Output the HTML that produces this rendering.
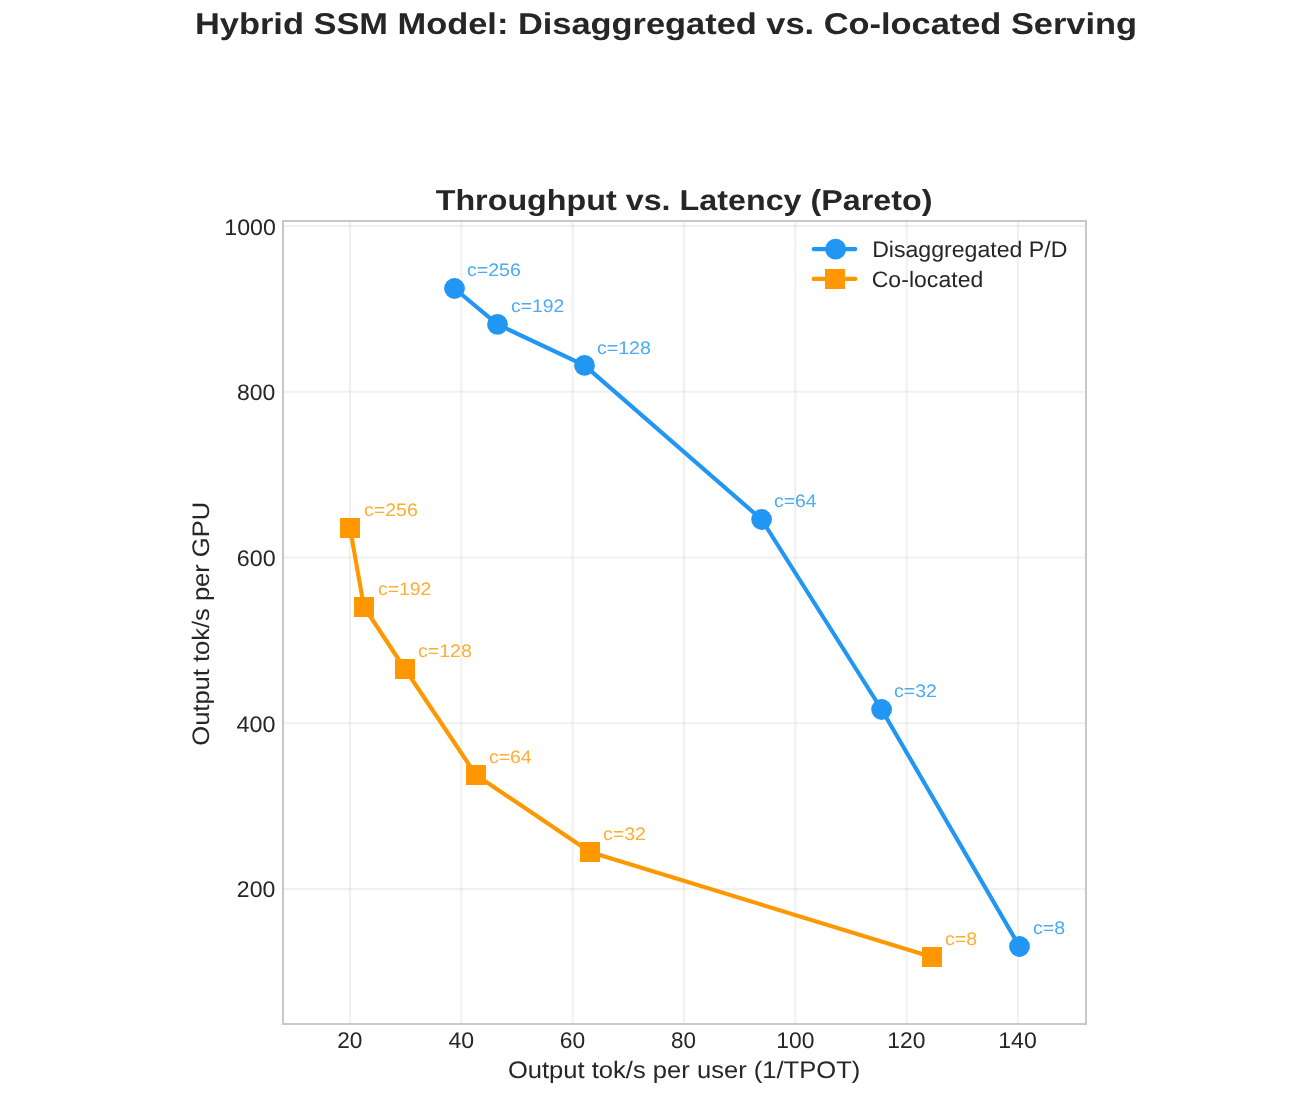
<!DOCTYPE html>
<html><head><meta charset="utf-8"><style>
html,body{margin:0;padding:0;background:#fff;}
svg{display:block;will-change:transform;text-rendering:geometricPrecision;font-family:"Liberation Sans", sans-serif;}
</style></head><body>
<svg width="1304" height="1104" viewBox="0 0 1304 1104">
<rect width="1304" height="1104" fill="#fff"/>
<line x1="350.0" y1="221" x2="350.0" y2="1024" stroke="#b4b4b4" stroke-opacity="0.2" stroke-width="2"/>
<line x1="461.33" y1="221" x2="461.33" y2="1024" stroke="#b4b4b4" stroke-opacity="0.2" stroke-width="2"/>
<line x1="572.67" y1="221" x2="572.67" y2="1024" stroke="#b4b4b4" stroke-opacity="0.2" stroke-width="2"/>
<line x1="684.0" y1="221" x2="684.0" y2="1024" stroke="#b4b4b4" stroke-opacity="0.2" stroke-width="2"/>
<line x1="795.33" y1="221" x2="795.33" y2="1024" stroke="#b4b4b4" stroke-opacity="0.2" stroke-width="2"/>
<line x1="906.67" y1="221" x2="906.67" y2="1024" stroke="#b4b4b4" stroke-opacity="0.2" stroke-width="2"/>
<line x1="1018.0" y1="221" x2="1018.0" y2="1024" stroke="#b4b4b4" stroke-opacity="0.2" stroke-width="2"/>
<line x1="283" y1="226.0" x2="1086" y2="226.0" stroke="#b4b4b4" stroke-opacity="0.2" stroke-width="2"/>
<line x1="283" y1="391.75" x2="1086" y2="391.75" stroke="#b4b4b4" stroke-opacity="0.2" stroke-width="2"/>
<line x1="283" y1="557.5" x2="1086" y2="557.5" stroke="#b4b4b4" stroke-opacity="0.2" stroke-width="2"/>
<line x1="283" y1="723.25" x2="1086" y2="723.25" stroke="#b4b4b4" stroke-opacity="0.2" stroke-width="2"/>
<line x1="283" y1="889.0" x2="1086" y2="889.0" stroke="#b4b4b4" stroke-opacity="0.2" stroke-width="2"/>
<rect x="283" y="221" width="803" height="803" fill="none" stroke="#c8c8c8" stroke-width="2"/>
<polyline fill="none" stroke="#2196F3" stroke-width="4.15" stroke-linejoin="round" stroke-linecap="round" points="454.5,288.5 497.5,324.4 584.5,365.4 761.6,519.5 881.6,709.5 1019.5,946.5"/>
<polyline fill="none" stroke="#FF9800" stroke-width="4.15" stroke-linejoin="round" stroke-linecap="round" points="350.0,528.0 364.0,607.0 405.0,669.0 476.0,775.0 590.0,852.0 932.0,957.0"/>
<circle cx="454.5" cy="288.5" r="10.4" fill="#2196F3"/>
<circle cx="497.5" cy="324.4" r="10.4" fill="#2196F3"/>
<circle cx="584.5" cy="365.4" r="10.4" fill="#2196F3"/>
<circle cx="761.6" cy="519.5" r="10.4" fill="#2196F3"/>
<circle cx="881.6" cy="709.5" r="10.4" fill="#2196F3"/>
<circle cx="1019.5" cy="946.5" r="10.4" fill="#2196F3"/>
<rect x="340.0" y="518.0" width="20.0" height="20.0" fill="#FF9800"/>
<rect x="354.0" y="597.0" width="20.0" height="20.0" fill="#FF9800"/>
<rect x="395.0" y="659.0" width="20.0" height="20.0" fill="#FF9800"/>
<rect x="466.0" y="765.0" width="20.0" height="20.0" fill="#FF9800"/>
<rect x="580.0" y="842.0" width="20.0" height="20.0" fill="#FF9800"/>
<rect x="922.0" y="947.0" width="20.0" height="20.0" fill="#FF9800"/>
<line x1="813.65" y1="249.1" x2="855.35" y2="249.1" stroke="#2196F3" stroke-width="4.15" stroke-linecap="round"/>
<circle cx="835.6" cy="249.2" r="10.4" fill="#2196F3"/>
<line x1="813.65" y1="278.9" x2="855.35" y2="278.9" stroke="#FF9800" stroke-width="4.15" stroke-linecap="round"/>
<rect x="825.0" y="269.0" width="20.0" height="20.0" fill="#FF9800"/>
<text transform="translate(195.01,33.70) scale(1.1408,1) scale(0.1)" font-size="301.44" fill="#262626" font-weight="bold">Hybrid SSM Model: Disaggregated vs. Co-located Serving</text>
<text transform="translate(435.67,209.90) scale(1.1140,1) scale(0.1)" font-size="289.79" fill="#262626" font-weight="bold">Throughput vs. Latency (Pareto)</text>
<text transform="translate(507.91,1077.70) scale(1.0641,1) scale(0.1)" font-size="240.28" fill="#262626">Output tok/s per user (1/TPOT)</text>
<text transform="translate(208.80,745.69) rotate(-90) scale(1.0615,1) scale(0.1)" font-size="240.28" fill="#262626">Output tok/s per GPU</text>
<text transform="translate(872.15,256.80) scale(1.0234,1) scale(0.1)" font-size="225.72" fill="#262626">Disaggregated P/D</text>
<text transform="translate(871.67,286.70) scale(1.0297,1) scale(0.1)" font-size="224.26" fill="#262626">Co-located</text>
<text transform="translate(467.02,275.78) scale(1.0721,1) scale(0.1)" font-size="182.24" fill="#4DABF5">c=256</text>
<text transform="translate(511.03,311.78) scale(1.0603,1) scale(0.1)" font-size="182.24" fill="#4DABF5">c=192</text>
<text transform="translate(597.02,353.78) scale(1.0721,1) scale(0.1)" font-size="182.24" fill="#4DABF5">c=128</text>
<text transform="translate(774.03,506.78) scale(1.0630,1) scale(0.1)" font-size="182.24" fill="#4DABF5">c=64</text>
<text transform="translate(894.02,696.78) scale(1.0705,1) scale(0.1)" font-size="182.24" fill="#4DABF5">c=32</text>
<text transform="translate(1033.01,933.78) scale(1.0774,1) scale(0.1)" font-size="182.24" fill="#4DABF5">c=8</text>
<text transform="translate(364.02,515.78) scale(1.0721,1) scale(0.1)" font-size="182.24" fill="#FFAD33">c=256</text>
<text transform="translate(378.03,594.78) scale(1.0603,1) scale(0.1)" font-size="182.24" fill="#FFAD33">c=192</text>
<text transform="translate(418.02,656.78) scale(1.0721,1) scale(0.1)" font-size="182.24" fill="#FFAD33">c=128</text>
<text transform="translate(489.03,762.78) scale(1.0630,1) scale(0.1)" font-size="182.24" fill="#FFAD33">c=64</text>
<text transform="translate(603.02,839.78) scale(1.0705,1) scale(0.1)" font-size="182.24" fill="#FFAD33">c=32</text>
<text transform="translate(945.01,944.78) scale(1.0774,1) scale(0.1)" font-size="182.24" fill="#FFAD33">c=8</text>
<text transform="translate(224.28,234.79) scale(1.0271,1) scale(0.1)" font-size="225.84" fill="#262626">1000</text>
<text transform="translate(237.00,399.72) scale(1.0217,1) scale(0.1)" font-size="224.44" fill="#262626">800</text>
<text transform="translate(236.83,565.91) scale(1.0252,1) scale(0.1)" font-size="227.10" fill="#262626">600</text>
<text transform="translate(236.50,731.83) scale(1.0286,1) scale(0.1)" font-size="227.10" fill="#262626">400</text>
<text transform="translate(236.84,896.91) scale(1.0196,1) scale(0.1)" font-size="227.10" fill="#262626">200</text>
<text transform="translate(337.13,1047.91) scale(0.9929,1) scale(0.1)" font-size="227.10" fill="#262626">20</text>
<text transform="translate(448.50,1047.91) scale(1.0154,1) scale(0.1)" font-size="227.10" fill="#262626">40</text>
<text transform="translate(559.85,1047.91) scale(1.0089,1) scale(0.1)" font-size="227.10" fill="#262626">60</text>
<text transform="translate(671.10,1047.91) scale(0.9865,1) scale(0.1)" font-size="227.10" fill="#262626">80</text>
<text transform="translate(776.31,1047.91) scale(1.0066,1) scale(0.1)" font-size="227.10" fill="#262626">100</text>
<text transform="translate(887.31,1047.91) scale(1.0066,1) scale(0.1)" font-size="227.10" fill="#262626">120</text>
<text transform="translate(998.21,1047.91) scale(1.0177,1) scale(0.1)" font-size="227.10" fill="#262626">140</text>
</svg>
</body></html>
